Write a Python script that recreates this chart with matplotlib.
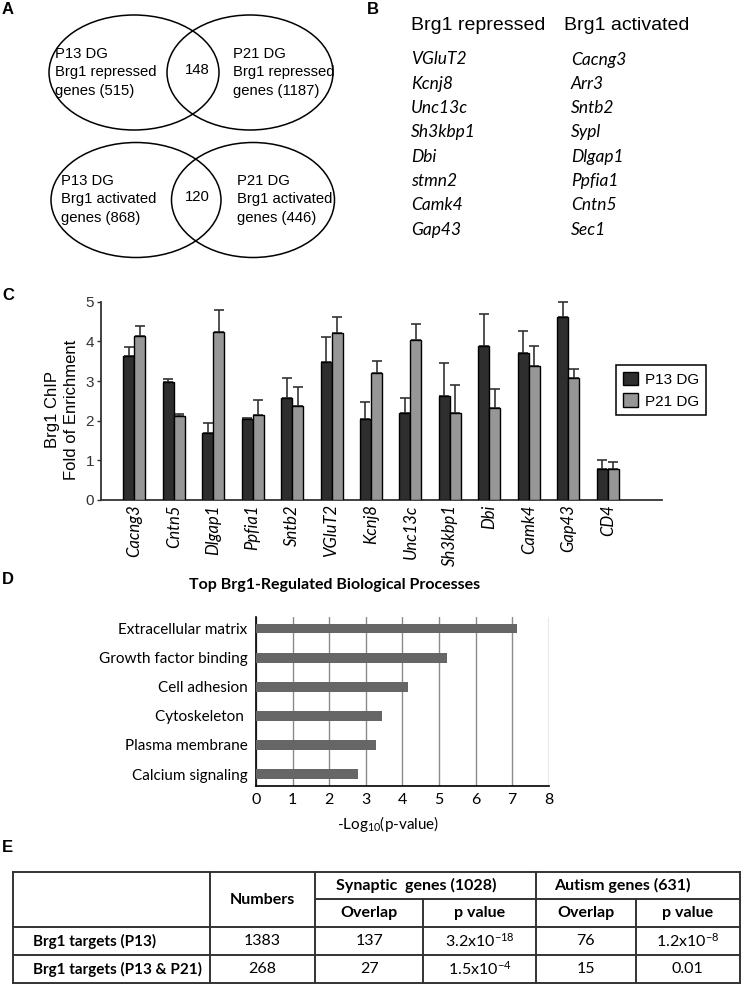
import matplotlib
matplotlib.use("Agg")
import matplotlib.pyplot as plt
import numpy as np
from matplotlib.patches import Ellipse

plt.rcParams['font.family'] = ['Liberation Sans', 'DejaVu Sans']
plt.rcParams['mathtext.fontset'] = 'custom'
plt.rcParams['mathtext.rm'] = 'Lato'
plt.rcParams['mathtext.it'] = 'Lato:italic'
plt.rcParams['mathtext.bf'] = 'Lato:bold'

# ---- data ----
# A: Venn counts
venn_groups = ["repressed", "activated"]
p13_counts = [515, 868]
p21_counts = [1187, 446]
overlap_counts = [148, 120]

# B: gene lists
repressed_genes = ["VGluT2", "Kcnj8", "Unc13c", "Sh3kbp1", "Dbi", "stmn2", "Camk4", "Gap43"]
activated_genes = ["Cacng3", "Arr3", "Sntb2", "Sypl", "Dlgap1", "Ppfia1", "Cntn5", "Sec1"]

# C: ChIP enrichment
chip_genes = ["Cacng3", "Cntn5", "Dlgap1", "Ppfia1", "Sntb2", "VGluT2", "Kcnj8",
              "Unc13c", "Sh3kbp1", "Dbi", "Camk4", "Gap43", "CD4"]
p13_mean = [3.64, 2.98, 1.70, 2.04, 2.57, 3.47, 2.03, 2.20, 2.62, 3.88, 3.71, 4.62, 0.79]
p13_err = [0.21, 0.08, 0.24, 0.02, 0.50, 0.65, 0.45, 0.38, 0.83, 0.80, 0.56, 0.37, 0.23]
p21_mean = [4.14, 2.12, 4.24, 2.14, 2.36, 4.22, 3.21, 4.03, 2.20, 2.32, 3.39, 3.08, 0.79]
p21_err = [0.25, 0.06, 0.54, 0.37, 0.48, 0.40, 0.29, 0.41, 0.69, 0.49, 0.49, 0.23, 0.17]

# D: GO terms
go_terms = ["Extracellular matrix", "Growth factor binding", "Cell adhesion",
            "Cytoskeleton ", "Plasma membrane", "Calcium signaling"]
go_logp = [7.12, 5.21, 4.16, 3.45, 3.27, 2.80]

# E: table
row_labels = ["Brg1 targets (P13)", "Brg1 targets (P13 & P21)"]
numbers = ["1383", "268"]
syn_overlap = ["137", "27"]
syn_p = ["3.2x10$^{-18}$", "1.5x10$^{-4}$"]
aut_overlap = ["76", "15"]
aut_p = ["1.2x10$^{-8}$", "0.01"]

W, H = 742, 985
fig = plt.figure(figsize=(W / 100, H / 100), dpi=100)


def rect(x0, y0, x1, y1):
    return [x0 / W, 1 - y1 / H, (x1 - x0) / W, (y1 - y0) / H]


canvas = fig.add_axes([0, 0, 1, 1])
canvas.set_xlim(0, W)
canvas.set_ylim(H, 0)
canvas.axis('off')

# panel letters
for lab, x, y in [("A", 2, 9), ("B", 367, 9), ("C", 2, 295), ("D", 2, 579), ("E", 2, 848)]:
    canvas.text(x, y, lab, fontsize=12, fontweight='bold', va='center', ha='left')

# ---- A: Venn diagrams ----
venn_y = [72.5, 200]
for i, grp in enumerate(venn_groups):
    cy = venn_y[i]
    canvas.add_patch(Ellipse((134 + 2 * i, cy), 170, 115, fill=False, lw=1.1, ec='black'))
    canvas.add_patch(Ellipse((250 + 3 * i, cy), 166 - 3 * i, 115, fill=False, lw=1.1, ec='black'))
    lx = 55 + 6 * i
    rx = 233 + 4 * i
    for k, line in enumerate(["P13 DG", "Brg1 " + grp, "genes (%d)" % p13_counts[i]]):
        canvas.text(lx, cy - 19 + 18.5 * k, line, fontsize=10.7, va='center', ha='left')
    for k, line in enumerate(["P21 DG", "Brg1 " + grp, "genes (%d)" % p21_counts[i]]):
        canvas.text(rx, cy - 19 + 18.5 * k, line, fontsize=10.7, va='center', ha='left')
    canvas.text(197, cy - 3, str(overlap_counts[i]), fontsize=10.7, va='center', ha='center')

# ---- B: gene lists ----
canvas.text(411, 25, "Brg1 repressed", fontsize=14, va='center', ha='left')
canvas.text(564, 25, "Brg1 activated", fontsize=14, va='center', ha='left')
for k, (g1, g2) in enumerate(zip(repressed_genes, activated_genes)):
    y = 59.5 + 24.3 * k
    canvas.text(411, y, g1, fontsize=12.5, style='italic', family='Lato', va='center', ha='left')
    canvas.text(571, y, g2, fontsize=12.5, style='italic', family='Lato', va='center', ha='left')

# ---- C: ChIP bar chart ----
axc = fig.add_axes(rect(101, 301.7, 662, 500))
x = np.arange(len(chip_genes))
bw = 0.28
axc.bar(x - bw / 2, p13_mean, bw, color='#2e2e2e', edgecolor='black', lw=1, label='P13 DG', zorder=3)
axc.bar(x + bw / 2, p21_mean, bw, color='#979797', edgecolor='black', lw=1, label='P21 DG', zorder=3)
axc.errorbar(x - bw / 2, p13_mean, yerr=[np.zeros(len(x)), p13_err], fmt='none',
             ecolor='#333333', elinewidth=1.2, capsize=3.5, capthick=1.2, zorder=2, clip_on=False)
axc.errorbar(x + bw / 2, p21_mean, yerr=[np.zeros(len(x)), p21_err], fmt='none',
             ecolor='#333333', elinewidth=1.2, capsize=3.5, capthick=1.2, zorder=2, clip_on=False)
axc.set_xlim((101 - 134.3) / 39.45, (662 - 134.3) / 39.45)
axc.set_ylim(0, 5)
axc.set_yticks(range(6))
axc.tick_params(axis='y', labelsize=11, length=3, width=1, pad=2, colors='#333333')
axc.set_xticks(x)
axc.set_xticklabels(chip_genes, rotation=90, fontsize=12, style='italic', family='Lato')
axc.tick_params(axis='x', length=0, pad=3)
for s in ['top', 'right']:
    axc.spines[s].set_visible(False)
for s in ['left', 'bottom']:
    axc.spines[s].set_linewidth(1.3)
    axc.spines[s].set_color('#333333')
axc.patch.set_alpha(0)
leg = axc.legend(loc='upper left', bbox_to_anchor=(608 / W, 1 - 357 / H), bbox_transform=fig.transFigure,
                 fontsize=11, fancybox=False, edgecolor='black', handlelength=1.0, handleheight=1.0,
                 handletextpad=0.5, borderpad=0.45, labelspacing=0.45, framealpha=1)
leg.get_frame().set_linewidth(1.1)
canvas.text(62, 410, "Brg1 ChIP\nFold of Enrichment", rotation=90, fontsize=12,
            ha='center', va='center', multialignment='center', linespacing=1.25)

# ---- D: GO horizontal bar chart ----
axd = fig.add_axes(rect(256, 617, 548.7, 785.7))
y = np.arange(len(go_terms))
axd.barh(y, go_logp, height=0.33, color='#666666', zorder=3)
axd.set_xlim(0, 8)
axd.set_ylim(len(go_terms) - 0.6, -0.4)
axd.set_xticks(range(9))
axd.grid(axis='x', color='#8a8a8a', lw=1, zorder=0)
axd.set_yticks(y)
axd.set_yticklabels(go_terms, family='Lato', fontsize=11)
for lbl in axd.get_xticklabels():
    lbl.set_family('Lato')
axd.tick_params(axis='x', length=0, pad=5, labelsize=11.5)
axd.tick_params(axis='y', length=0, pad=6)
for s in ['top', 'right']:
    axd.spines[s].set_visible(False)
axd.spines['left'].set_linewidth(1.2)
axd.spines['bottom'].set_linewidth(1.2)
axd.set_xlabel("-Log$_{10}$(p-value)", family='Lato', fontsize=11)
axd.xaxis.set_label_coords(0.453, -0.17)
canvas.text(335, 585, "Top Brg1-Regulated Biological Processes", family='Lato',
            fontweight='bold', fontsize=11.5, ha='center', va='center')

# ---- E: table ----
tl, tr = 12.7, 740
row_y = [871.7, 899.3, 927.3, 955, 983.3]
col_x = [12.7, 210, 315, 423.3, 535.7, 635.7, 740]
lc = '#333333'
tlw = 1.4
for yy in [row_y[0], row_y[2], row_y[3], row_y[4]]:
    canvas.plot([tl, tr], [yy, yy], color=lc, lw=tlw, solid_capstyle='projecting')
canvas.plot([col_x[2], tr], [row_y[1], row_y[1]], color=lc, lw=tlw)
for xx in [col_x[0], col_x[1], col_x[2], col_x[4], col_x[6]]:
    canvas.plot([xx, xx], [row_y[0], row_y[4]], color=lc, lw=tlw, solid_capstyle='projecting')
for xx in [col_x[3], col_x[5]]:
    canvas.plot([xx, xx], [row_y[1], row_y[4]], color=lc, lw=tlw)

tf = dict(family='Lato', fontsize=11.5, va='center', ha='center')
canvas.text((col_x[1] + col_x[2]) / 2, (row_y[0] + row_y[2]) / 2, "Numbers", fontweight='bold', **tf)
canvas.text(416, (row_y[0] + row_y[1]) / 2, "Synaptic  genes (1028)", fontweight='bold', **tf)
canvas.text(622, (row_y[0] + row_y[1]) / 2, "Autism genes (631)", fontweight='bold', **tf)
sub_y = (row_y[1] + row_y[2]) / 2
for c, t in zip([3, 4, 5, 6], ["Overlap", "p value", "Overlap", "p value"]):
    canvas.text((col_x[c - 1] + col_x[c]) / 2, sub_y, t, fontweight='bold', **tf)
for r in range(2):
    cy = (row_y[r + 2] + row_y[r + 3]) / 2
    canvas.text(33, cy, row_labels[r], family='Lato', fontsize=11, fontweight='bold', va='center', ha='left')
    vals = [numbers[r], syn_overlap[r], syn_p[r], aut_overlap[r], aut_p[r]]
    for c, v in enumerate(vals):
        canvas.text((col_x[c + 1] + col_x[c + 2]) / 2, cy, v, **tf)

fig.savefig("out.png", dpi=100)
